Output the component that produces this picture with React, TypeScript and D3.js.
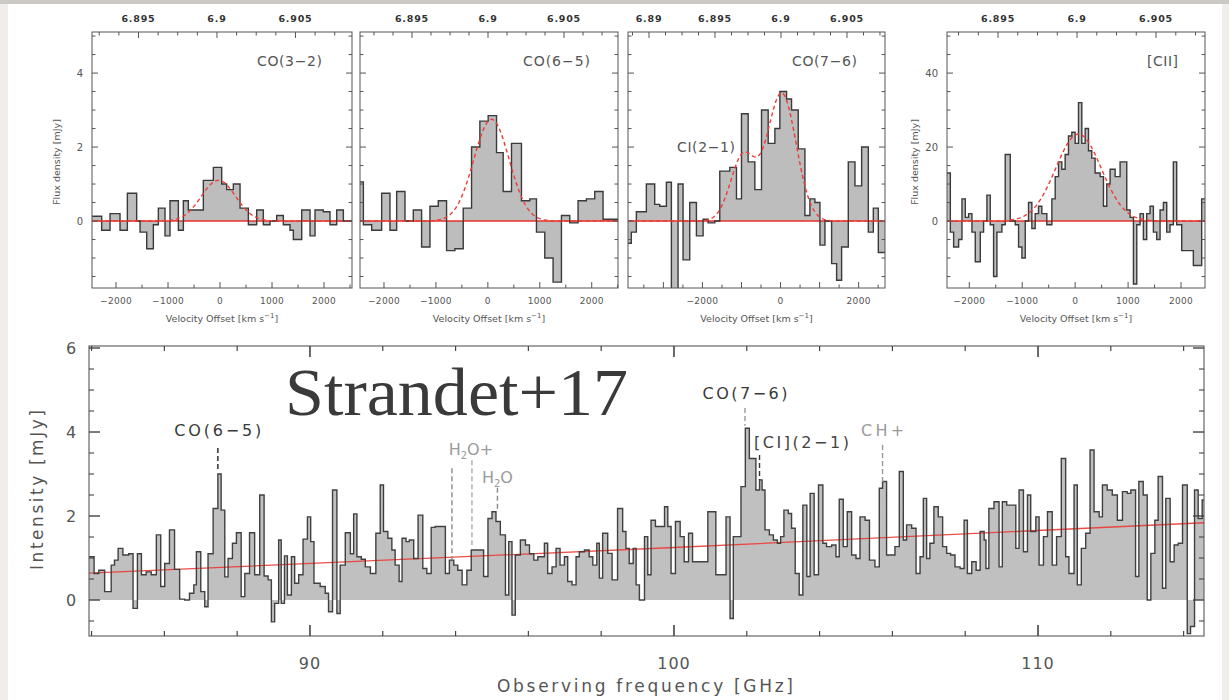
import React from "react";
import * as d3 from "d3";

// ---------------- top panels: velocity spectra (bin edges in km/s, flux in mJy) ----------------
const co32Edges = [-2468, -2276, -2115, -1923, -1782, -1603, -1538, -1410, -1282, -1186, -1058, -962, -801, -705, -609, -321, -128, 32, 128, 256, 385, 545, 705, 833, 962, 1090, 1218, 1346, 1410, 1571, 1731, 1827, 1987, 2115, 2244, 2372, 2532];
const co32Flux = [0.13, -0.25, 0.2, -0.25, 0.75, 0.0, -0.3, -0.75, -0.1, 0.35, -0.4, 0.55, -0.25, 0.55, 0.3, 1.1, 1.45, 1.0, 0.85, 1.0, 0.35, -0.1, 0.3, -0.1, 0.0, 0.15, -0.1, -0.25, -0.5, 0.3, -0.4, 0.3, 0.25, -0.1, 0.3, 0.0];
const co32Fit = [{ amp: 1.1, mu: -30, sigma: 330 }];

const co65Edges = [-2462, -2397, -2237, -2045, -1885, -1756, -1596, -1436, -1276, -1115, -955, -795, -635, -474, -314, -154, 6, 167, 295, 455, 647, 808, 936, 1096, 1256, 1417, 1577, 1737, 1897, 2058, 2218, 2506];
const co65Flux = [1.06, -0.1, -0.25, 0.75, -0.25, 0.8, 0.0, 0.3, -0.7, 0.4, 0.55, -0.8, -0.75, 0.35, 2.0, 2.7, 2.85, 1.85, 0.8, 2.1, 0.55, 0.6, -0.3, -1.0, -1.65, 0.15, -0.05, 0.55, 0.6, 0.8, 0.05];
const co65Fit = [{ amp: 2.75, mu: 70, sigma: 340 }];

const co76Edges = [-3906, -3821, -3692, -3436, -3222, -3094, -2923, -2795, -2624, -2496, -2325, -2154, -1983, -1855, -1684, -1556, -1299, -1128, -1000, -829, -658, -487, -316, -145, -17, 154, 282, 453, 624, 752, 880, 1009, 1137, 1308, 1436, 1564, 1735, 1906, 2077, 2248, 2376, 2504, 2675];
const co76Flux = [-0.6, -0.3, 0.25, 1.0, 0.45, 0.4, 1.05, -1.85, 1.0, -1.05, 0.5, -0.4, 0.05, -0.05, 0.0, 1.35, 1.45, 0.6, 2.9, 1.6, 0.85, 3.0, 2.1, 2.5, 3.5, 3.3, 3.0, 1.95, 0.15, 0.6, 0.5, -0.65, 0.0, -1.15, -1.6, -0.7, 1.6, 0.95, 2.0, -0.3, 0.35, -0.85];
const co76Fit = [{ amp: 3.45, mu: 30, sigma: 370 }, { amp: 1.75, mu: -960, sigma: 320 }];

const ciiEdges = [-2421, -2358, -2296, -2201, -2138, -2075, -2013, -1950, -1887, -1792, -1730, -1667, -1604, -1541, -1478, -1384, -1321, -1226, -1132, -1069, -1006, -943, -881, -818, -755, -692, -629, -535, -440, -377, -314, -252, -189, -126, -63, 0, 63, 126, 189, 252, 314, 377, 472, 535, 597, 660, 755, 849, 975, 1038, 1101, 1164, 1226, 1289, 1352, 1415, 1478, 1541, 1604, 1667, 1730, 1792, 1855, 1918, 2013, 2107, 2233, 2390, 2453];
const ciiFlux = [13, -3, -7, -5, 6, 1, 2, -3, -11, -3, 0, 7, -1, -15, -3, -1, 18, 0, -1, -7, -10, 0, 5, -2, 2, 4, 2, -1, 6, 12, 16, 14, 18, 23, 24, 21, 32, 21, 25, 19, 17, 13, 12, 4, 10, 14, 12, 16, 3, 1, -17, -1, 2, -5, 2, 4, -3, -5, 3, 5, -3, -1, 16, -1, -8, -8, -12, 6];
const ciiFit = [{ amp: 23.5, mu: 63, sigma: 430 }];

const velTicks = [-2000, -1000, 0, 1000, 2000];
const velTicksWide = [-2000, 0, 2000];
const zTicks = [6.895, 6.9, 6.905];
const zTicksWide = [6.89, 6.895, 6.9, 6.905];
const fluxTicks = [0, 2, 4];
const ciiFluxTicks = [0, 20, 40];

// ---------------- bottom panel: full spectrum (channel start in GHz, flux in mJy) ----------------
const specStartGHz = [
  83.93, 84.07, 84.2, 84.36, 84.54, 84.63, 84.73, 84.86, 85.02, 85.14, 85.26, 85.37, 85.5, 85.64, 85.78, 85.9, 86.01, 86.14, 86.28, 86.42, 86.56, 86.69, 86.81, 86.88, 87.0, 87.11, 87.2, 87.34, 87.47, 87.56, 87.66, 87.75, 87.87, 87.98, 88.11, 88.21, 88.34, 88.48, 88.62, 88.74, 88.85, 88.94, 89.03, 89.14, 89.21, 89.3, 89.38, 89.49, 89.58, 89.69, 89.81, 89.93, 90.02,
  90.11, 90.28, 90.42, 90.51, 90.62, 90.74, 90.83, 90.97, 91.11, 91.2, 91.29, 91.41, 91.52, 91.66, 91.81, 91.93, 92.02, 92.14, 92.25, 92.34, 92.45, 92.53, 92.64, 92.73, 92.85, 92.97, 93.1, 93.21, 93.33, 93.44, 93.58, 93.72, 93.83, 93.95, 94.06, 94.18, 94.31, 94.43, 94.54, 94.65, 94.77, 94.89, 95.0, 95.11, 95.23, 95.37, 95.46, 95.55, 95.64, 95.78, 95.92, 96.03, 96.15,
  96.26, 96.44, 96.53, 96.65, 96.76, 96.87, 96.99, 97.08, 97.2, 97.31, 97.4, 97.54, 97.67, 97.77, 97.88, 97.95, 98.04, 98.18, 98.3, 98.45, 98.59, 98.68, 98.77, 98.88, 98.96, 99.05, 99.19, 99.28, 99.37, 99.49, 99.62, 99.74, 99.83, 99.92, 100.04, 100.17, 100.28, 100.4, 100.51, 100.65, 100.79, 100.93, 101.02, 101.15, 101.29, 101.43, 101.54, 101.63, 101.75, 101.84, 101.96, 102.07, 102.16, 102.25, 102.35,
  102.42, 102.5, 102.62, 102.73, 102.84, 102.93, 103.02, 103.14, 103.23, 103.33, 103.44, 103.54, 103.65, 103.74, 103.85, 103.97, 104.09, 104.19, 104.33, 104.45, 104.54, 104.65, 104.76, 104.88, 105.0, 105.11, 105.25, 105.37, 105.52, 105.64, 105.73, 105.84, 105.98, 106.07, 106.19, 106.3, 106.39, 106.53, 106.65, 106.76, 106.85, 106.94, 107.03, 107.14, 107.26, 107.38, 107.49, 107.6, 107.72, 107.86, 107.97, 108.06, 108.18, 108.3, 108.41, 108.52,
  108.57, 108.65, 108.79, 108.93, 109.02, 109.14, 109.25, 109.39, 109.48, 109.6, 109.71, 109.8, 109.94, 110.03, 110.15, 110.26, 110.39, 110.51, 110.64, 110.76, 110.85, 110.99, 111.08, 111.19, 111.31, 111.43, 111.54, 111.68, 111.77, 111.9, 112.04, 112.18, 112.32, 112.45, 112.55, 112.68, 112.77, 112.89, 113.0, 113.1, 113.21, 113.3, 113.42, 113.51, 113.63, 113.74, 113.85, 113.97, 114.1, 114.19, 114.3, 114.4, 114.51,
];
const specEndGHz = 114.56;
const specFlux = [
  1.03, 0.63, 0.71, 0.2, 0.83, 0.95, 1.23, 1.07, 1.1, -0.2, 1.1, 0.6, 0.67, 0.6, 1.55, 0.32, 0.87, 1.67, 0.73, 0.02, 0.0, 0.16, 0.36, 1.15, 0.2, -0.16, 1.1, 2.18, 3.0, 2.14, 0.55, 0.99, 1.35, 1.6, 0.08, 0.63, 1.6, 0.6, 2.5, 0.57, 0.48, -0.52, -0.08, 1.43, -0.08, 1.05, 0.12, 1.03, 0.4, 0.6, 1.45, 1.98, 1.39,
  0.4, 0.32, 0.16, -0.28, 2.62, -0.32, 0.83, 1.6, 1.1, 2.05, 1.03, 0.97, 0.79, 0.63, 1.59, 2.74, 1.63, 1.47, 1.19, 0.83, 0.44, 1.47, 1.39, 1.43, 0.99, 2.02, 0.75, 0.63, 1.73, 1.75, 1.75, 0.63, 0.95, 0.83, 0.71, 0.36, 0.71, 1.19, 1.19, 1.19, 0.56, 1.94, 2.1, 1.87, 1.55, 0.12, 1.39, -0.36, 1.07, 1.43, 1.31, 1.1, 0.95,
  1.03, 1.35, 0.63, 0.79, 1.23, 0.83, 1.03, 0.44, 0.36, 1.03, 1.15, 1.19, 1.03, 0.83, 1.35, 0.52, 1.59, 1.11, 0.48, 2.18, 1.63, 1.23, 0.87, 1.23, 0.36, 0.0, 1.51, 0.6, 1.9, 1.75, 1.75, 2.22, 1.75, 0.63, 1.87, 1.51, 0.91, 1.59, 0.91, 0.91, 0.91, 2.1, 2.1, 0.6, 0.6, 1.98, -0.44, 1.51, 1.51, 2.7, 4.09, 3.37, 3.37, 2.62, 2.86,
  2.62, 1.67, 1.55, 1.43, 1.35, 1.51, 2.14, 2.06, 1.71, 0.63, 0.12, 2.26, 0.56, 2.54, 0.6, 2.74, 1.35, 1.27, 1.31, 1.03, 2.4, 1.27, 2.1, 1.07, 0.99, 1.98, 1.9, 0.95, 0.79, 2.66, 2.82, 1.07, 1.07, 1.27, 3.06, 1.43, 1.79, 1.71, 0.63, 1.03, 2.42, 0.99, 1.35, 2.22, 1.98, 1.27, 1.11, 1.07, 0.79, 0.75, 1.9, 0.63, 0.91, 0.71, 1.63, 1.43,
  0.75, 2.18, 2.34, 0.79, 2.34, 2.26, 2.26, 1.23, 2.62, 1.15, 2.5, 1.63, 1.98, 0.83, 1.51, 2.1, 0.83, 1.51, 3.37, 1.03, 0.63, 2.74, 0.36, 1.23, 1.59, 3.57, 2.1, 1.98, 2.74, 2.62, 2.5, 1.9, 2.58, 2.54, 2.62, 0.56, 2.82, 2.5, 0.0, 1.11, 1.9, 2.94, 0.28, 2.42, 0.91, 1.31, 1.35, 2.74, -0.8, -0.63, 2.62, 1.94, 2.38,
];
const contGHz = [83.93, 100, 114.56];
const contFlux = [0.64, 1.25, 1.84];
const freqMajor = [90, 100, 110];
const intensityTicks = [0, 2, 4, 6];

// line identifications: frequency, dashed marker extent (mJy), label position (GHz, mJy)
const lineIds = [
  { name: "CO(6−5)", sub: false, ghz: 87.47, dashTop: 3.62, dashBot: 3.1, labelGHz: 87.47, labelY: 3.9, width: 87, color: "#3a3a3a", dashColor: "#222" },
  { name: "H2O+", sub: true, ghz: 93.9, dashTop: 3.14, dashBot: 0.95, labelGHz: 94.42, labelY: 3.45, width: 52, color: "#9a9a9a", dashColor: "#8a8a8a" },
  { name: "", sub: false, ghz: 94.45, dashTop: 3.33, dashBot: 1.31, labelGHz: 94.45, labelY: 0, width: 0, color: "#999", dashColor: "#aaa" },
  { name: "H2O", sub: true, ghz: 95.15, dashTop: 2.67, dashBot: 2.1, labelGHz: 95.15, labelY: 2.78, width: 37, color: "#9a9a9a", dashColor: "#8a8a8a" },
  { name: "CO(7−6)", sub: false, ghz: 101.95, dashTop: 4.57, dashBot: 4.15, labelGHz: 101.95, labelY: 4.78, width: 85, color: "#3a3a3a", dashColor: "#999" },
  { name: "[CI](2−1)", sub: false, ghz: 102.35, dashTop: 3.45, dashBot: 2.86, labelGHz: 103.5, labelY: 3.62, width: 95, color: "#444", dashColor: "#333" },
  { name: "CH+", sub: false, ghz: 105.73, dashTop: 3.69, dashBot: 2.79, labelGHz: 105.73, labelY: 3.9, width: 43, color: "#9a9a9a", dashColor: "#999" },
];

// ---------------- helpers ----------------
type Pt = [number, number];
function stepPoints(edges: number[], values: number[]): Pt[] {
  const pts: Pt[] = [];
  const n = Math.min(edges.length - 1, values.length);
  for (let i = 0; i < n; i++) {
    pts.push([edges[i], values[i]]);
    pts.push([edges[i + 1], values[i]]);
  }
  return pts;
}
const fmtV = (v: number) => (v < 0 ? "−" + Math.abs(v) : String(v));
const fmtZ = (v: number) => String(+v.toFixed(3));

const FONT = "DejaVu Sans";

function TopPanel({ p }: { p: any }) {
  const x = d3.scaleLinear().domain(p.vDomain).range([p.left, p.right]);
  const y = d3.scaleLinear().domain(p.yDomain).range([p.bottom, p.top]);
  const z = d3.scaleLinear().domain(p.zDomain).range([p.left, p.right]);
  const pts = stepPoints(p.edges, p.flux);
  const area = d3.area<Pt>().x((d) => x(d[0])).y0(y(0)).y1((d) => y(d[1]));
  const line = d3.line<Pt>().x((d) => x(d[0])).y((d) => y(d[1]));
  const fitPts: Pt[] = d3.range(p.vDomain[0], p.vDomain[1] + 1, 15).map((v) => [
    v,
    p.fit.reduce((s: number, g: any) => s + g.amp * Math.exp(-((v - g.mu) ** 2) / (2 * g.sigma * g.sigma)), 0),
  ]);
  const yMinor = d3.range(Math.ceil(p.yDomain[0] / p.yStep) * p.yStep, p.yDomain[1], p.yStep);
  const vMinor = d3.range(Math.ceil(p.vDomain[0] / 500) * 500, p.vDomain[1], 500);
  const zMinor = d3.range(6.88, 6.91, 0.00125).filter((v) => v > p.zDomain[0] && v < p.zDomain[1]);
  const cid = "clip-" + p.id;
  const cx = (p.left + p.right) / 2;
  return (
    <g>
      <defs>
        <clipPath id={cid}>
          <rect x={p.left} y={p.top} width={p.right - p.left} height={p.bottom - p.top} />
        </clipPath>
      </defs>
      <g clipPath={`url(#${cid})`}>
        <path d={area(pts) || ""} fill="#bdbdbd" />
        <line x1={p.left} x2={p.right} y1={y(0)} y2={y(0)} stroke="#e8322b" strokeWidth={1.4} />
        <path d={line(pts) || ""} fill="none" stroke="#3a3a3a" strokeWidth={1.4} />
        <path d={line(fitPts) || ""} fill="none" stroke="#ef3b33" strokeWidth={1.4} strokeDasharray="4,3" />
      </g>
      <rect x={p.left} y={p.top} width={p.right - p.left} height={p.bottom - p.top} fill="none" stroke="#555" strokeWidth={1} />
      {yMinor.map((v: number, i: number) => {
        const major = p.yMajor.some((m: number) => Math.abs(m - v) < 1e-6);
        const L = major ? 6 : 3.5;
        return (
          <g key={"y" + i} stroke="#555" strokeWidth={1}>
            <line x1={p.left} x2={p.left + L} y1={y(v)} y2={y(v)} />
            <line x1={p.right} x2={p.right - L} y1={y(v)} y2={y(v)} />
          </g>
        );
      })}
      {vMinor.map((v: number, i: number) => {
        const major = v % 1000 === 0;
        return <line key={"v" + i} x1={x(v)} x2={x(v)} y1={p.bottom} y2={p.bottom - (major ? 6 : 3.5)} stroke="#555" />;
      })}
      {zMinor.map((v: number, i: number) => {
        const major = p.zTicks.some((m: number) => Math.abs(m - v) < 1e-6);
        return <line key={"z" + i} x1={z(v)} x2={z(v)} y1={p.top} y2={p.top + (major ? 6 : 3.5)} stroke="#555" />;
      })}
      {p.showY &&
        p.yMajor.map((v: number) => (
          <text key={"yl" + v} x={p.left - 9} y={y(v) + 3.5} fontSize={10} textAnchor="end" fill="#555">
            {v}
          </text>
        ))}
      {p.showY && (
        <text transform={`translate(${p.yTitleX},${(p.top + p.bottom) / 2 + 2}) rotate(-90)`} fontSize={9.5} textAnchor="middle" fill="#555">
          Flux density [mJy]
        </text>
      )}
      {p.vTicks.map((v: number) => (
        <text key={"vl" + v} x={x(v)} y={304} fontSize={9} textAnchor="middle" fill="#555" letterSpacing={0.3}>
          {fmtV(v)}
        </text>
      ))}
      {p.zTicks.map((v: number) => (
        <text key={"zl" + v} x={z(v)} y={22} fontSize={9.5} textAnchor="middle" fill="#333" fontWeight="bold" letterSpacing={0.8}>
          {fmtZ(v)}
        </text>
      ))}
      <text x={cx} y={322} fontSize={9.5} textAnchor="middle" fill="#555">
        Velocity Offset [km s<tspan dy={-4} fontSize={7}>−1</tspan>
        <tspan dy={4}>]</tspan>
      </text>
      <text x={p.labelRight} y={66} fontSize={14} textAnchor="end" fill="#555" textLength={p.labelWidth} lengthAdjust="spacing">
        {p.label}
      </text>
      {p.extraLabel && (
        <text x={p.extraLabel.x} y={p.extraLabel.y} fontSize={14} fill="#555" textLength={p.extraLabel.w} lengthAdjust="spacing">
          {p.extraLabel.text}
        </text>
      )}
    </g>
  );
}

function BottomPanel() {
  const left = 89, right = 1204, top = 346, bottom = 636;
  const x = d3.scaleLinear().domain([83.93, 114.56]).range([left, right]);
  const y = d3.scaleLinear().domain([-0.857, 6.048]).range([bottom, top]);
  const edges = [...specStartGHz, specEndGHz];
  const pts = stepPoints(edges, specFlux);
  const area = d3.area<Pt>().x((d) => x(d[0])).y0(y(0)).y1((d) => y(d[1]));
  const line = d3.line<Pt>().x((d) => x(d[0])).y((d) => y(d[1]));
  const cont = d3.line<Pt>().x((d) => x(d[0])).y((d) => y(d[1]));
  const contPts: Pt[] = contGHz.map((f, i) => [f, contFlux[i]]);
  const xMinor = d3.range(84, 115, 2).filter((v) => v > 83.93 && v < 114.56);
  const yMinor = d3.range(-0.5, 6.01, 0.5);
  return (
    <g>
      <defs>
        <clipPath id="clip-bottom">
          <rect x={left} y={top} width={right - left} height={bottom - top} />
        </clipPath>
      </defs>
      <g clipPath="url(#clip-bottom)">
        <path d={area(pts) || ""} fill="#c0c0c0" />
        <path d={cont(contPts) || ""} fill="none" stroke="#ec3a33" strokeWidth={1.3} opacity={0.9} />
        <path d={line(pts) || ""} fill="none" stroke="#404040" strokeWidth={1.4} />
      </g>
      <rect x={left} y={top} width={right - left} height={bottom - top} fill="none" stroke="#666" strokeWidth={1.2} />
      {xMinor.map((v, i) => {
        const major = v % 10 === 0;
        const L = major ? 11 : 5;
        return (
          <g key={"bx" + i} stroke="#444" strokeWidth={major ? 1.6 : 1.2}>
            <line x1={x(v)} x2={x(v)} y1={bottom} y2={bottom - L} />
            <line x1={x(v)} x2={x(v)} y1={top} y2={top + L} />
          </g>
        );
      })}
      {yMinor.map((v, i) => {
        const major = Math.abs(v % 2) < 1e-6;
        const L = major ? 11 : 5;
        return (
          <g key={"by" + i} stroke="#444" strokeWidth={major ? 1.4 : 1.1}>
            <line x1={left} x2={left + L} y1={y(v)} y2={y(v)} />
            <line x1={right} x2={right - L} y1={y(v)} y2={y(v)} />
          </g>
        );
      })}
      {freqMajor.map((v) => (
        <text key={"fl" + v} x={x(v)} y={669} fontSize={16} textAnchor="middle" fill="#555" letterSpacing={1}>
          {v}
        </text>
      ))}
      {intensityTicks.map((v) => (
        <text key={"il" + v} x={71} y={y(v) + 6} fontSize={16} textAnchor="middle" fill="#555">
          {v}
        </text>
      ))}
      <text transform={`translate(43,${490}) rotate(-90)`} fontSize={17} textAnchor="middle" fill="#555" textLength={160} lengthAdjust="spacing">
        Intensity [mJy]
      </text>
      <text x={645} y={692} fontSize={17} textAnchor="middle" fill="#555" textLength={296} lengthAdjust="spacing">
        Observing frequency [GHz]
      </text>
      {lineIds.map((l, i) => (
        <g key={"lid" + i}>
          <line x1={x(l.ghz)} x2={x(l.ghz)} y1={y(l.dashTop)} y2={y(l.dashBot)} stroke={l.dashColor} strokeWidth={1.4} strokeDasharray="5,3" />
          {l.name && !l.sub && (
            <text x={x(l.labelGHz)} y={y(l.labelY)} fontSize={16} textAnchor="middle" fill={l.color} textLength={l.width} lengthAdjust="spacing">
              {l.name}
            </text>
          )}
          {l.name && l.sub && (
            <text x={x(l.labelGHz)} y={y(l.labelY)} fontSize={16} textAnchor="middle" fill={l.color}>
              {l.name.slice(0, 1)}
              <tspan fontSize={10} dy={4}>{l.name.slice(1, 2)}</tspan>
              <tspan dy={-4}>{l.name.slice(2)}</tspan>
            </text>
          )}
        </g>
      ))}
      <text x={285} y={415} fontFamily="Liberation Serif" fontSize={68} fill="#3a3a3a" textLength={343} lengthAdjust="spacingAndGlyphs">
        Strandet+17
      </text>
    </g>
  );
}

export default function App() {
  const panels = [
    {
      id: "p1", left: 92, right: 352, top: 32, bottom: 288, vDomain: [-2462, 2538], yDomain: [-1.81, 5.11], zDomain: [6.89204, 6.9086],
      edges: co32Edges, flux: co32Flux, fit: co32Fit, yMajor: fluxTicks, yStep: 0.5, vTicks: velTicks, zTicks: zTicks,
      showY: true, yTitleX: 60, label: "CO(3−2)", labelRight: 322, labelWidth: 65,
    },
    {
      id: "p2", left: 360, right: 618, top: 32, bottom: 288, vDomain: [-2462, 2506], yDomain: [-1.81, 5.11], zDomain: [6.89158, 6.90855],
      edges: co65Edges, flux: co65Flux, fit: co65Fit, yMajor: fluxTicks, yStep: 0.5, vTicks: velTicks, zTicks: zTicks,
      showY: false, label: "CO(6−5)", labelRight: 590, labelWidth: 67,
    },
    {
      id: "p3", left: 628, right: 885, top: 32, bottom: 288, vDomain: [-3906, 2675], yDomain: [-1.81, 5.11], zDomain: [6.88841, 6.90788],
      edges: co76Edges, flux: co76Flux, fit: co76Fit, yMajor: fluxTicks, yStep: 0.5, vTicks: velTicksWide, zTicks: zTicksWide,
      showY: false, label: "CO(7−6)", labelRight: 857, labelWidth: 65,
      extraLabel: { text: "CI(2−1)", x: 677, y: 152, w: 58 },
    },
    {
      id: "p4", left: 947, right: 1205, top: 32, bottom: 288, vDomain: [-2421, 2453], yDomain: [-18.1, 51.1], zDomain: [6.89177, 6.9081],
      edges: ciiEdges, flux: ciiFlux, fit: ciiFit, yMajor: ciiFluxTicks, yStep: 5, vTicks: velTicks, zTicks: zTicks,
      showY: true, yTitleX: 918, label: "[CII]", labelRight: 1178, labelWidth: 31,
    },
  ];
  return (
    <svg width={1229} height={700} style={{ position: "absolute", left: 0, top: 0 }} fontFamily={FONT}>
      <rect x={0} y={0} width={1229} height={700} fill="#efeeeb" />
      <rect x={8} y={4} width={1214} height={696} fill="#ffffff" />
      <rect x={0} y={0} width={1229} height={4} fill="#cbc9c4" />
      {panels.map((p) => (
        <TopPanel key={p.id} p={p} />
      ))}
      <BottomPanel />
    </svg>
  );
}
